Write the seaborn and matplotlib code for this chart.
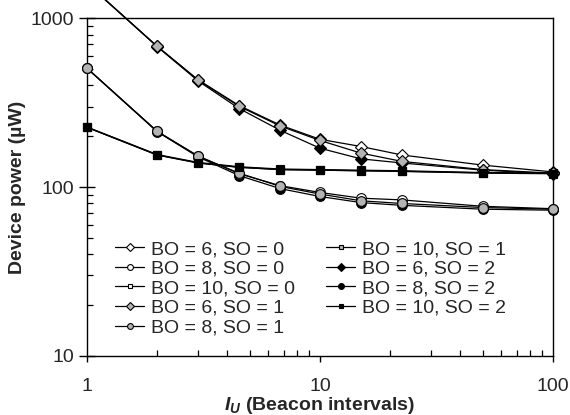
import matplotlib
matplotlib.use("Agg")
import matplotlib.pyplot as plt
import matplotlib.ticker as mticker
import seaborn as sns
import pandas as pd

# ---- data ----
beacon_intervals = [1, 2, 3, 4.5, 6.75, 10, 15, 22.5, 50, 100]

labels = ["BO = 6, SO = 0", "BO = 8, SO = 0", "BO = 10, SO = 0",
          "BO = 6, SO = 1", "BO = 8, SO = 1", "BO = 10, SO = 1",
          "BO = 6, SO = 2", "BO = 8, SO = 2", "BO = 10, SO = 2"]

bo6_so0 = [1610, 682, 432, 304, 233, 192, 174, 155, 135, 123]
bo8_so0 = [506, 214, 153, 120, 102, 93, 86, 84, 77, 74.5]
bo10_so0 = [227, 156, 140, 132, 128, 127, 126, 125, 122, 121]
bo6_so1 = [1610, 682, 430, 301, 230, 189, 159, 142, 127, 121]
bo8_so1 = [506, 214, 152, 121, 101, 91, 83, 80, 75.7, 74]
bo10_so1 = [226, 155, 139, 131, 127, 126, 125, 124, 121.5, 120.5]
bo6_so2 = [1610, 680, 425, 292, 217, 170, 147, 139, 126, 120]
bo8_so2 = [506, 213, 151, 117, 98, 88, 81, 78, 74, 73]
bo10_so2 = [226, 155, 139, 131, 127, 126, 125, 124, 121, 120]

series = [bo6_so0, bo8_so0, bo10_so0, bo6_so1, bo8_so1, bo10_so1,
          bo6_so2, bo8_so2, bo10_so2]

# ---- styles ----
GRAY = "#b3b3b3"
faces = ["white", "white", "white", GRAY, GRAY, GRAY, "black", "black", "black"]
markers = ["D", "o", "s"] * 3
msizes = {"D": 6.3, "o": 7, "s": 6}
zorders = [3, 4, 3, 6, 7, 4, 5, 3, 8]

sns.set_theme(style="white")
plt.rcParams["font.family"] = ["Liberation Sans", "DejaVu Sans"]
plt.rcParams["mathtext.fontset"] = "custom"
plt.rcParams["mathtext.it"] = "Liberation Sans:bold:italic"
plt.rcParams["mathtext.rm"] = "Liberation Sans:bold"

fig = plt.figure(figsize=(5.7, 4.15), dpi=100)
ax = fig.add_axes([0.1526, 0.1422, 0.970 - 0.1526, 0.956 - 0.1422])

handles = {}
for lab, vals, fc, mk, z in zip(labels, series, faces, markers, zorders):
    df = pd.DataFrame({"x": beacon_intervals, "y": vals})
    sns.lineplot(data=df, x="x", y="y", ax=ax, color="black", lw=0.9,
                 marker=mk, markersize=msizes[mk], markerfacecolor=fc,
                 markeredgecolor="black", markeredgewidth=0.8,
                 zorder=z, clip_on=False, legend=False)
    handles[lab] = ax.get_lines()[-1]

ax.set_xscale("log")
ax.set_yscale("log")
ax.set_xlim(1, 100)
ax.set_ylim(10, 1000)

ax.set_xticks([1, 10, 100])
ax.set_xticklabels(["1", "10", "100"])
ax.set_yticks([10, 100, 1000])
ax.set_yticklabels(["10", "100", "1000"])
ax.xaxis.set_minor_locator(mticker.LogLocator(base=10, subs=range(2, 10)))
ax.yaxis.set_minor_locator(mticker.LogLocator(base=10, subs=range(2, 10)))
ax.xaxis.set_minor_formatter(mticker.NullFormatter())
ax.yaxis.set_minor_formatter(mticker.NullFormatter())

ax.tick_params(axis="y", which="major", direction="inout", length=11,
               width=1, color="black", labelsize=14, pad=4,
               left=True, right=False)
ax.tick_params(axis="x", which="major", direction="out", length=4.5,
               width=1, color="black", labelsize=14, pad=11.5,
               bottom=True, top=False)
ax.tick_params(axis="both", which="minor", direction="in", length=4,
               width=0.9, color="black",
               bottom=True, left=True, top=False, right=False)

for sp in ax.spines.values():
    sp.set_color("black")
    sp.set_linewidth(1)

ax.set_xlabel(r"$I_U$ (Beacon intervals)", fontsize=14, fontweight="bold",
              labelpad=0)
ax.set_ylabel("Device power (\u00b5W)", fontsize=14, fontweight="bold",
              labelpad=3)

leg = ax.legend([handles[l] for l in labels], labels, ncol=2,
                loc="upper left", bbox_to_anchor=(0.06, 0.342),
                frameon=False, fontsize=14, markerscale=0.6,
                handlelength=1.5, handletextpad=0.35, columnspacing=1.6,
                labelspacing=0.1, borderpad=0, borderaxespad=0)

fig.savefig("out.png", dpi=100)
